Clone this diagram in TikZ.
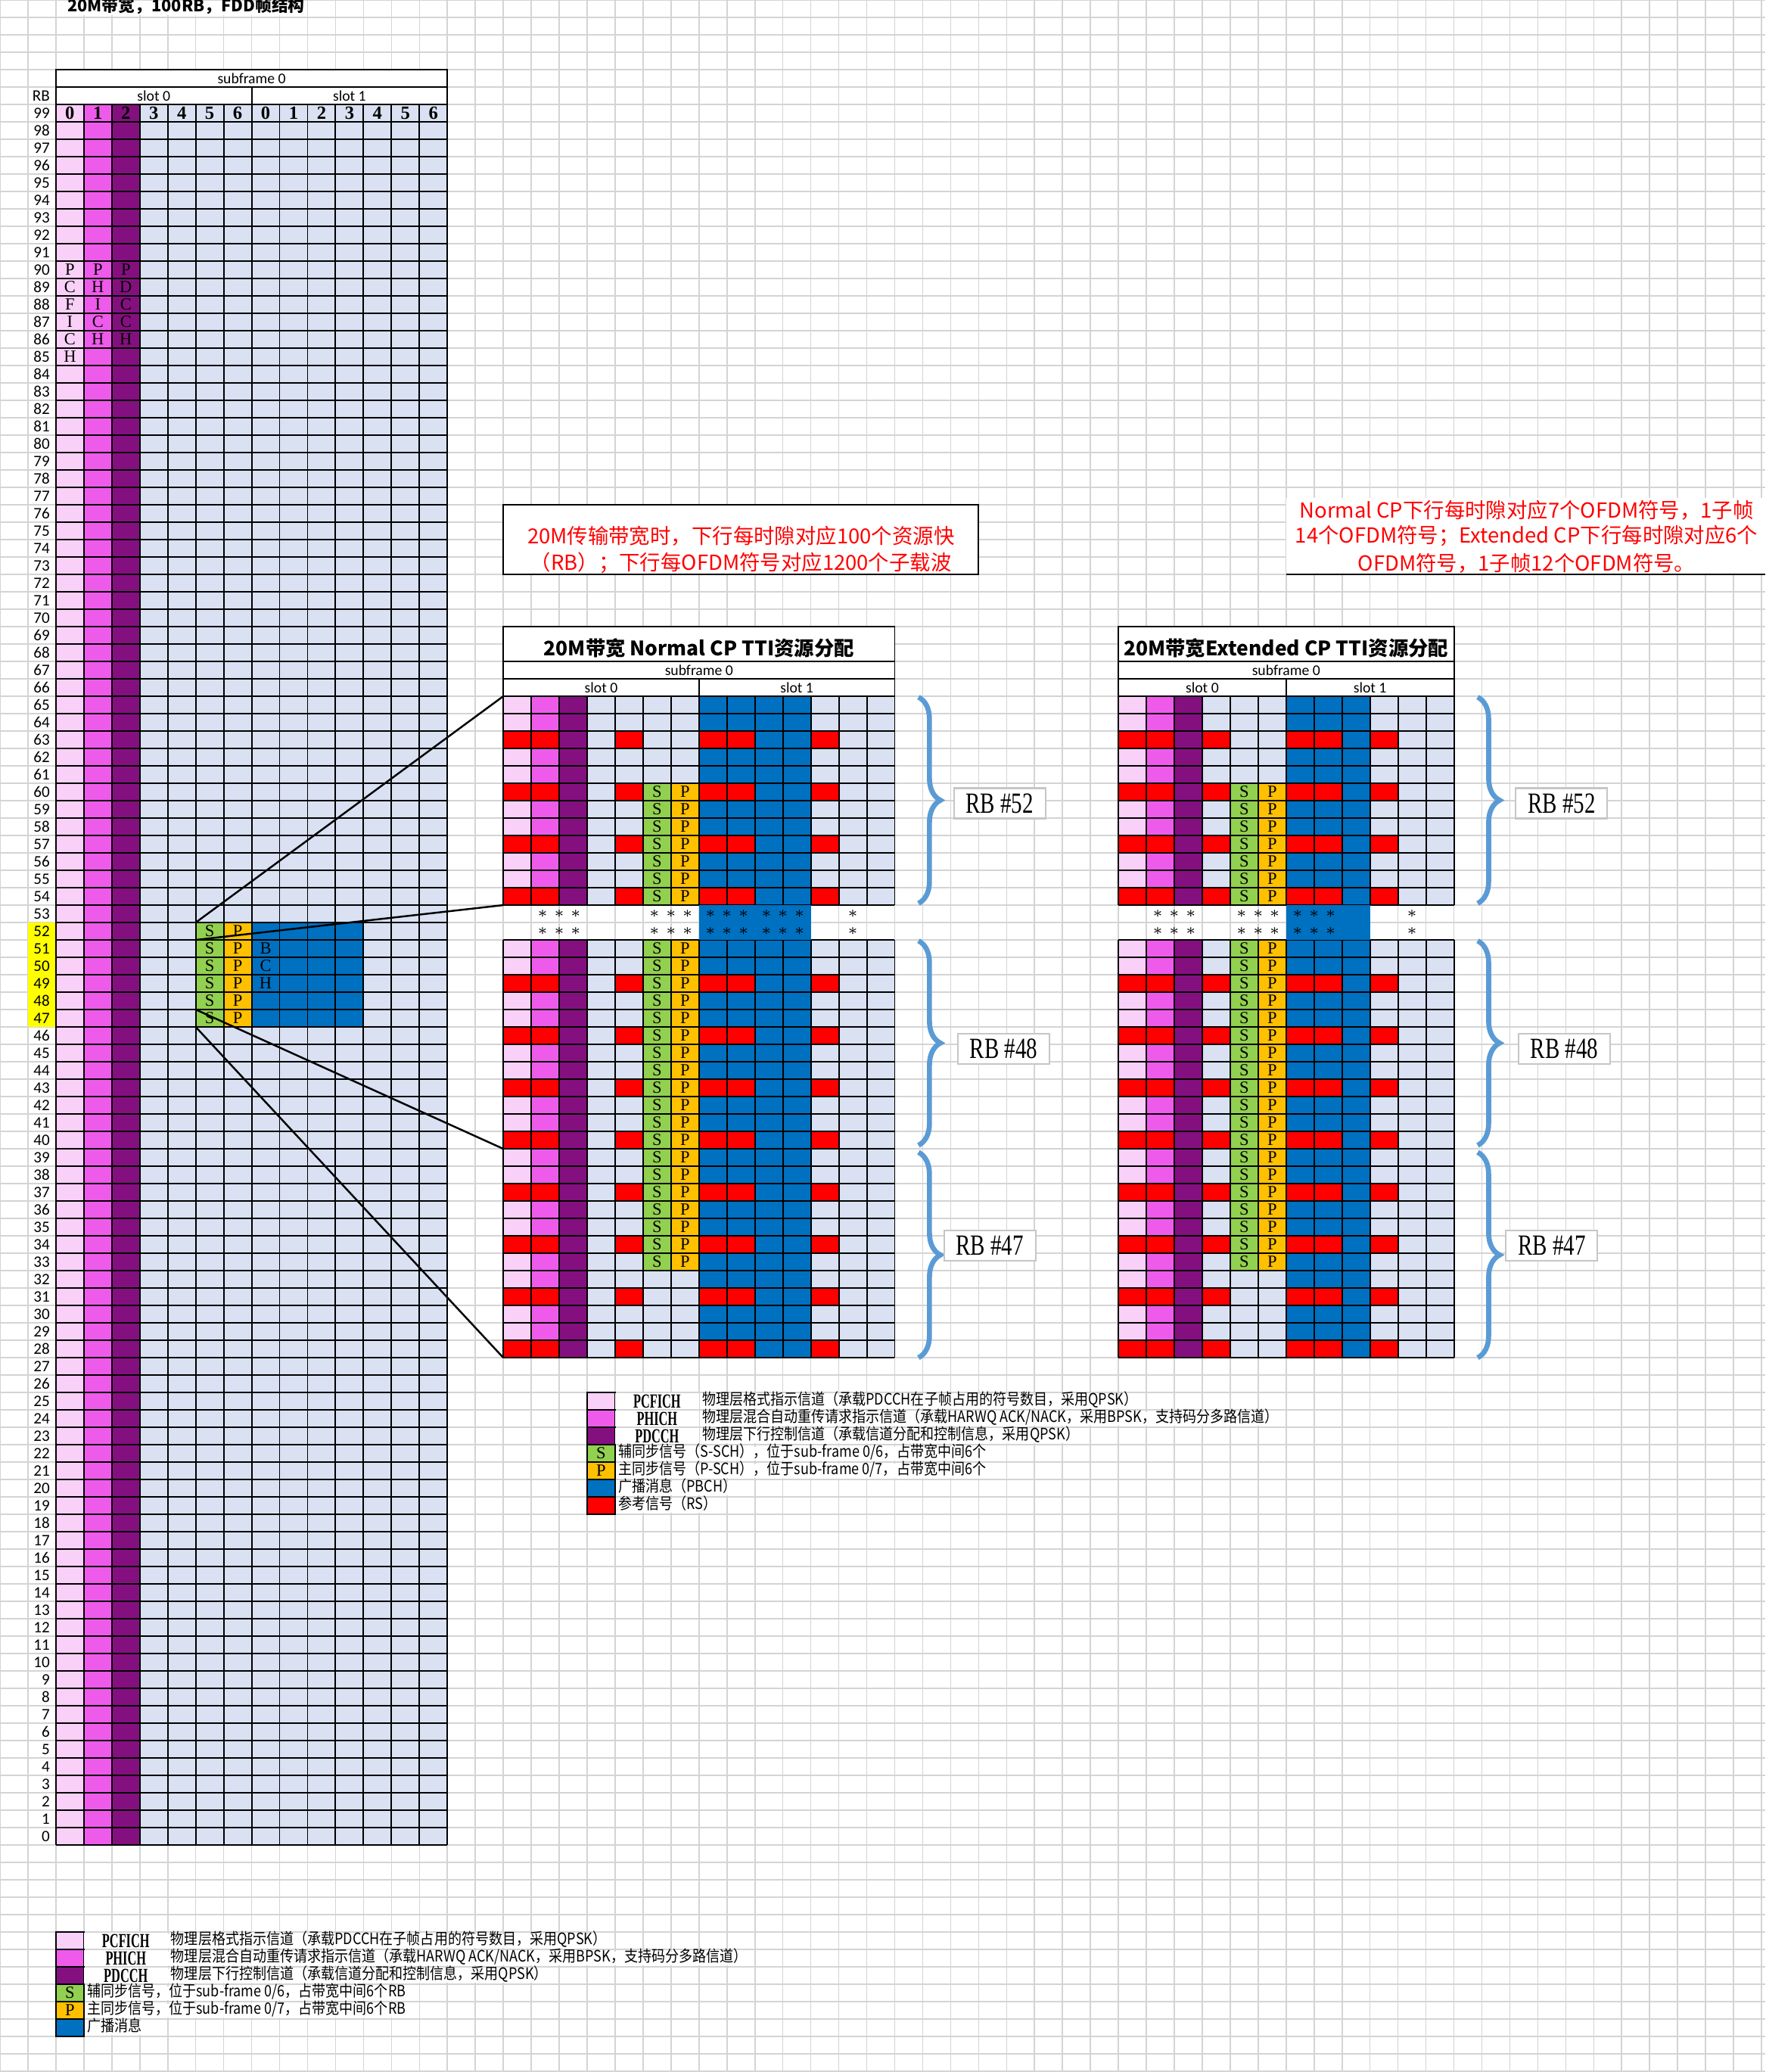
\documentclass[tikz,border=0pt]{standalone}
\usepackage{fontspec}
\usepackage{graphicx}
\setmainfont{Liberation Serif}
\newfontfamily\cjk{Noto Sans CJK SC}
\newfontfamily\calib{Carlito}
\usetikzlibrary{decorations.pathreplacing}
\definecolor{sheetgray}{HTML}{D4D4D4}
\definecolor{pcfich}{HTML}{F9D0F7}
\definecolor{phich}{HTML}{EE5BEA}
\definecolor{pdcch}{HTML}{84107F}
\definecolor{cellblue}{HTML}{D9E1F2}
\definecolor{pbch}{HTML}{0070C0}
\definecolor{rsred}{HTML}{FF0000}
\definecolor{sssgreen}{HTML}{92D050}
\definecolor{pssgold}{HTML}{FFC000}
\definecolor{bracecol}{HTML}{5B9BD5}
\definecolor{markyellow}{HTML}{FFFF00}
\newcommand{\narrowtext}[2]{\scalebox{#1}[1]{#2}}
\newcommand{\threestars}{$\ast$\hspace{2.4pt}$\ast$\hspace{2.4pt}$\ast$}

\begin{document}
\begin{tikzpicture}[
  x=0.3695cm,y=-0.23cm,
  sheet/.style={draw=sheetgray,line width=0.45pt},
  cellline/.style={draw=black,line width=0.55pt},
  hdr/.style={font=\calib\fontsize{5.6}{6}\selectfont,inner sep=0pt},
  rbnum/.style={font=\calib\fontsize{6}{7}\selectfont,anchor=east,inner sep=0pt},
  symnum/.style={font=\bfseries\fontsize{7}{8}\selectfont,inner sep=0pt},
  letter/.style={font=\fontsize{6.4}{7}\selectfont,inner sep=0pt},
  stars/.style={font=\bfseries\fontsize{6}{7}\selectfont,inner sep=0pt},
  ttl/.style={font=\cjk\bfseries\fontsize{7.5}{9}\selectfont,inner sep=0pt},
  redtxt/.style={font=\cjk\fontsize{7.8}{10}\selectfont,text=rsred,inner sep=0pt},
  rblabel/.style={draw=gray!45,fill=white,line width=0.6pt,minimum width=1.21cm,minimum height=0.4cm,inner sep=0pt,font=\fontsize{11}{12}\selectfont},
  brc/.style={decorate,decoration={brace,amplitude=0.29cm},draw=bracecol,line width=1.9pt},
  legtag/.style={font=\bfseries\fontsize{7.5}{8}\selectfont,inner sep=0pt},
  legtxt/.style={font=\cjk\fontsize{5.9}{6}\selectfont,anchor=west,fill=white,inner xsep=1pt,inner ysep=0pt,text height=0.14cm,text depth=0.04cm},
  zoomln/.style={draw=black,line width=0.7pt}
]
\useasboundingbox (0,0) rectangle (63.14,119.04);
% spreadsheet background
\foreach \c in {0,...,63} \draw[sheet] (\c,0) -- (\c,119.04);
\foreach \r in {0,...,119} \draw[sheet] (0,\r) -- (63.14,\r);

\node[font=\cjk\bfseries\fontsize{6.2}{7}\selectfont,anchor=west,fill=white,inner xsep=1pt,inner ysep=0pt,text height=0.15cm,text depth=0.04cm] (title) at (2.3,0.45) {20M带宽，100RB，FDD帧结构};

% full 100 RB grid
\filldraw[fill=white,cellline] (2,4) rectangle (16,5);
\filldraw[fill=white,cellline] (2,5) rectangle (9,6);
\filldraw[fill=white,cellline] (9,5) rectangle (16,6);
\node[hdr] (msub) at (9,4.5) {subframe 0};
\node[hdr] (mslot0) at (5.5,5.5) {slot 0};
\node[hdr] (mslot1) at (12.5,5.5) {slot 1};
\node[rbnum] (rbhead) at (1.8,5.5) {RB};
\fill[pcfich] (2,6) rectangle (3,106);
\fill[phich] (3,6) rectangle (4,106);
\fill[pdcch] (4,6) rectangle (5,106);
\fill[cellblue] (5,6) rectangle (16,106);
\fill[sssgreen] (7,53) rectangle (8,59);
\fill[pssgold] (8,53) rectangle (9,59);
\fill[pbch] (9,53) rectangle (13,59);
\fill[markyellow] (1,53) rectangle (2,59);
\foreach \c in {2,...,16} \draw[cellline] (\c,6) -- (\c,106);
\foreach \r in {6,...,106} \draw[cellline] (2,\r) -- (16,\r);
\foreach \s [count=\i] in {0,1,2,3,4,5,6,0,1,2,3,4,5,6}
  \node[symnum] (sym\i) at (1.5+\i,6.5) {\s};
\foreach \n in {0,...,99} \node[rbnum] (rb\n) at (1.8,105.5-\n) {\n};
\foreach \t [count=\i from 0] in {P,C,F,I,C,H} \node[letter] (pcf\i) at (2.5,15.5+\i) {\t};
\foreach \t [count=\i from 0] in {P,H,I,C,H} \node[letter] (phi\i) at (3.5,15.5+\i) {\t};
\foreach \t [count=\i from 0] in {P,D,C,C,H} \node[letter] (pdc\i) at (4.5,15.5+\i) {\t};
\foreach \i in {0,...,5} {
  \node[letter] (ms\i) at (7.5,53.5+\i) {S};
  \node[letter] (mp\i) at (8.5,53.5+\i) {P};
}
\foreach \t [count=\i from 0] in {B,C,H} \node[letter] (mb\i) at (9.5,54.5+\i) {\t};

% notes
\filldraw[fill=white,cellline] (18,29) rectangle (35,33);
\node[redtxt] (note1a) at (26.5,30.8) {20M传输带宽时，下行每时隙对应100个资源快};
\node[redtxt] (note1b) at (26.5,32.35) {（RB）；下行每OFDM符号对应1200个子载波};
\fill[white] (46,28.6) rectangle (63.14,33);
\draw[cellline] (46,33) -- (63.14,33);
\node[redtxt] (note2a) at (54.6,29.3) {Normal CP下行每时隙对应7个OFDM符号，1子帧};
\node[redtxt] (note2b) at (54.6,30.8) {14个OFDM符号；Extended CP下行每时隙对应6个};
\node[redtxt] (note2c) at (54.6,32.35) {OFDM符号，1子帧12个OFDM符号。};

% normal CP detail
\filldraw[fill=white,cellline] (18,36) rectangle (32,38);
\node[ttl] (ntitle) at (25,37.25) {20M带宽 Normal CP TTI资源分配};
\filldraw[fill=white,cellline] (18,38) rectangle (32,39);
\filldraw[fill=white,cellline] (18,39) rectangle (25,40);
\filldraw[fill=white,cellline] (25,39) rectangle (32,40);
\node[hdr] (nsub) at (25,38.5) {subframe 0};
\node[hdr] (nslot0) at (21.5,39.5) {slot 0};
\node[hdr] (nslot1) at (28.5,39.5) {slot 1};
\foreach \ra/\sa/\sb in {40/45/51,54/54/65,66/66/72} {
  \fill[pcfich] (18,\ra) rectangle (19,\ra+12);
  \fill[phich] (19,\ra) rectangle (20,\ra+12);
  \fill[pdcch] (20,\ra) rectangle (21,\ra+12);
  \fill[cellblue] (21,\ra) rectangle (25,\ra+12);
  \fill[pbch] (25,\ra) rectangle (29,\ra+12);
  \fill[cellblue] (29,\ra) rectangle (32,\ra+12);
  \fill[sssgreen] (23,\sa) rectangle (24,\sb+1);
  \fill[pssgold] (24,\sa) rectangle (25,\sb+1);
  \foreach \k in {2,5,8,11} {
    \fill[rsred] (18,\ra+\k) rectangle (20,\ra+\k+1);
    \fill[rsred] (22,\ra+\k) rectangle (23,\ra+\k+1);
    \fill[rsred] (25,\ra+\k) rectangle (27,\ra+\k+1);
    \fill[rsred] (29,\ra+\k) rectangle (30,\ra+\k+1);
  }
  \foreach \c in {18,...,32} \draw[cellline] (\c,\ra) -- (\c,\ra+12);
  \foreach \k in {0,...,12} \draw[cellline] (18,\ra+\k) -- (32,\ra+\k);
  \foreach \r in {\sa,...,\sb} {
    \node[letter] (ns\r) at (23.5,\r+0.5) {S};
    \node[letter] (np\r) at (24.5,\r+0.5) {P};
  }
}
\fill[pbch] (25,52) rectangle (29,54);
\foreach \r in {52,53} {
  \foreach \x [count=\j] in {20,24,26,28} \node[stars] (nd\r\j) at (\x,\r+0.5) {\threestars};
  \node[stars] (nd\r5) at (30.5,\r+0.5) {$\ast$};
}

% extended CP detail
\filldraw[fill=white,cellline] (40,36) rectangle (52,38);
\node[ttl] (etitle) at (46,37.25) {20M带宽Extended CP TTI资源分配};
\filldraw[fill=white,cellline] (40,38) rectangle (52,39);
\filldraw[fill=white,cellline] (40,39) rectangle (46,40);
\filldraw[fill=white,cellline] (46,39) rectangle (52,40);
\node[hdr] (esub) at (46,38.5) {subframe 0};
\node[hdr] (eslot0) at (43,39.5) {slot 0};
\node[hdr] (eslot1) at (49,39.5) {slot 1};
\foreach \ra/\sa/\sb in {40/45/51,54/54/65,66/66/72} {
  \fill[pcfich] (40,\ra) rectangle (41,\ra+12);
  \fill[phich] (41,\ra) rectangle (42,\ra+12);
  \fill[pdcch] (42,\ra) rectangle (43,\ra+12);
  \fill[cellblue] (43,\ra) rectangle (46,\ra+12);
  \fill[pbch] (46,\ra) rectangle (49,\ra+12);
  \fill[cellblue] (49,\ra) rectangle (52,\ra+12);
  \fill[sssgreen] (44,\sa) rectangle (45,\sb+1);
  \fill[pssgold] (45,\sa) rectangle (46,\sb+1);
  \foreach \k in {2,5,8,11} {
    \fill[rsred] (40,\ra+\k) rectangle (42,\ra+\k+1);
    \fill[rsred] (43,\ra+\k) rectangle (44,\ra+\k+1);
    \fill[rsred] (46,\ra+\k) rectangle (48,\ra+\k+1);
    \fill[rsred] (49,\ra+\k) rectangle (50,\ra+\k+1);
  }
  \foreach \c in {40,...,52} \draw[cellline] (\c,\ra) -- (\c,\ra+12);
  \foreach \k in {0,...,12} \draw[cellline] (40,\ra+\k) -- (52,\ra+\k);
  \foreach \r in {\sa,...,\sb} {
    \node[letter] (es\r) at (44.5,\r+0.5) {S};
    \node[letter] (ep\r) at (45.5,\r+0.5) {P};
  }
}
\fill[pbch] (46,52) rectangle (49,54);
\foreach \r in {52,53} {
  \foreach \x [count=\j] in {42,45,47} \node[stars] (ed\r\j) at (\x,\r+0.5) {\threestars};
  \node[stars] (ed\r4) at (50.5,\r+0.5) {$\ast$};
}

% zoom lines from RB 52..47
\coordinate (mA) at (7,53);
\coordinate (mB) at (7,54);
\coordinate (mC) at (7,58);
\coordinate (mD) at (7,59);
\coordinate (nA) at (18,40);
\coordinate (nB) at (18,52);
\coordinate (nC) at (18,66);
\coordinate (nD) at (18,78);
\draw[zoomln] (mA) -- (nA);
\draw[zoomln] (mB) -- (nB);
\draw[zoomln] (mC) -- (nC);
\draw[zoomln] (mD) -- (nD);

% braces and RB tags
\foreach \bx in {32.85,52.85} {
  \draw[brc] (\bx,40.05) -- (\bx,51.9);
  \draw[brc] (\bx,54.05) -- (\bx,65.8);
  \draw[brc] (\bx,66.2) -- (\bx,78);
}
\node[rblabel] (nrb52) at (35.75,46.15) {\narrowtext{0.75}{RB \#52}};
\node[rblabel] (nrb48) at (35.9,60.25) {\narrowtext{0.75}{RB \#48}};
\node[rblabel] (nrb47) at (35.4,71.55) {\narrowtext{0.75}{RB \#47}};
\node[rblabel] (erb52) at (55.85,46.15) {\narrowtext{0.75}{RB \#52}};
\node[rblabel] (erb48) at (55.95,60.25) {\narrowtext{0.75}{RB \#48}};
\node[rblabel] (erb47) at (55.5,71.55) {\narrowtext{0.75}{RB \#47}};

% legend (middle)
\foreach \r/\clr in {80/pcfich,81/phich,82/pdcch,83/sssgreen,84/pssgold,85/pbch,86/rsred}
  \filldraw[fill=\clr,cellline] (21,\r) rectangle (22,\r+1);
\foreach \r in {80,81,82} \fill[white] (22,\r+0.05) rectangle (25,\r+0.95);
\node[legtag] (mtag1) at (23.5,80.5) {\narrowtext{0.62}{PCFICH}};
\node[legtag] (mtag2) at (23.5,81.5) {\narrowtext{0.62}{PHICH}};
\node[legtag] (mtag3) at (23.5,82.5) {\narrowtext{0.62}{PDCCH}};
\node[letter] (mkeyS) at (21.5,83.5) {S};
\node[letter] (mkeyP) at (21.5,84.5) {P};
\node[legtxt] (mdesc1) at (25,80.5) {\narrowtext{0.87}{物理层格式指示信道（承载PDCCH在子帧占用的符号数目，采用QPSK）}};
\node[legtxt] (mdesc2) at (25,81.5) {\narrowtext{0.87}{物理层混合自动重传请求指示信道（承载HARWQ ACK/NACK，采用BPSK，支持码分多路信道）}};
\node[legtxt] (mdesc3) at (25,82.5) {\narrowtext{0.87}{物理层下行控制信道（承载信道分配和控制信息，采用QPSK）}};
\node[legtxt] (mdesc4) at (22,83.5) {\narrowtext{0.87}{辅同步信号（S-SCH），位于sub-frame 0/6，占带宽中间6个}};
\node[legtxt] (mdesc5) at (22,84.5) {\narrowtext{0.87}{主同步信号（P-SCH），位于sub-frame 0/7，占带宽中间6个}};
\node[legtxt] (mdesc6) at (22,85.5) {\narrowtext{0.87}{广播消息（PBCH）}};
\node[legtxt] (mdesc7) at (22,86.5) {\narrowtext{0.87}{参考信号（RS）}};

% legend (bottom)
\foreach \r/\clr in {111/pcfich,112/phich,113/pdcch,114/sssgreen,115/pssgold,116/pbch}
  \filldraw[fill=\clr,cellline] (2,\r) rectangle (3,\r+1);
\foreach \r in {111,112,113} \fill[white] (3,\r+0.05) rectangle (6,\r+0.95);
\node[legtag] (btag1) at (4.5,111.5) {\narrowtext{0.62}{PCFICH}};
\node[legtag] (btag2) at (4.5,112.5) {\narrowtext{0.62}{PHICH}};
\node[legtag] (btag3) at (4.5,113.5) {\narrowtext{0.62}{PDCCH}};
\node[letter] (bkeyS) at (2.5,114.5) {S};
\node[letter] (bkeyP) at (2.5,115.5) {P};
\node[legtxt] (bdesc1) at (6,111.5) {\narrowtext{0.87}{物理层格式指示信道（承载PDCCH在子帧占用的符号数目，采用QPSK）}};
\node[legtxt] (bdesc2) at (6,112.5) {\narrowtext{0.87}{物理层混合自动重传请求指示信道（承载HARWQ ACK/NACK，采用BPSK，支持码分多路信道）}};
\node[legtxt] (bdesc3) at (6,113.5) {\narrowtext{0.87}{物理层下行控制信道（承载信道分配和控制信息，采用QPSK）}};
\node[legtxt] (bdesc4) at (3,114.5) {\narrowtext{0.87}{辅同步信号，位于sub-frame 0/6，占带宽中间6个RB}};
\node[legtxt] (bdesc5) at (3,115.5) {\narrowtext{0.87}{主同步信号，位于sub-frame 0/7，占带宽中间6个RB}};
\node[legtxt] (bdesc6) at (3,116.5) {\narrowtext{0.87}{广播消息}};
\end{tikzpicture}
\end{document}
